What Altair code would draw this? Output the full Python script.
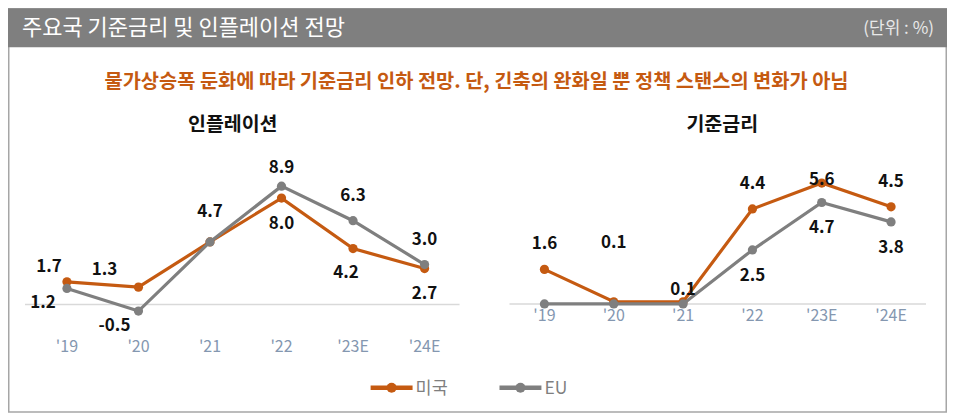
import altair as alt
import pandas as pd

# ---------------- data ----------------
years = ["'19", "'20", "'21", "'22", "'23E", "'24E"]
series = ["미국", "EU"]
colors = ["#C55A11", "#7F7F7F"]

infl_us = [1.7, 1.3, 4.7, 8.0, 4.2, 2.7]
infl_eu = [1.2, -0.5, 4.7, 8.9, 6.3, 3.0]
rate_us = [1.6, 0.1, 0.1, 4.4, 5.6, 4.5]
rate_eu = [0.0, 0.0, 0.0, 2.5, 4.7, 3.8]

# label placement categories (mapped to offsets in the style section)
infl_us_place = ["upper_left", "upper_left_far", "above_far", "below", "below_left", "below"]
infl_eu_place = ["lower_left", "lower_left", "none", "above_near", "above", "above"]
rate_us_place = ["above", "high", "close", "above", "on", "above"]
rate_eu_place = ["none", "none", "none", "below", "below", "below"]

title_text = "주요국 기준금리 및 인플레이션 전망"
unit_text = "(단위 : %)"
subtitle_text = "물가상승폭 둔화에 따라 기준금리 인하 전망. 단, 긴축의 완화일 뿐 정책 스탠스의 변화가 아님"
panel_titles = ["인플레이션", "기준금리"]

# ---------------- style ----------------
KR = "Noto Sans CJK KR"
PLACE = {
    "above": (0, -25),
    "above_near": (0, -18),
    "above_far": (0, -30),
    "below": (0, 26),
    "below_left": (-7, 24),
    "upper_left": (-18, -15),
    "upper_left_far": (-34, -17),
    "lower_left": (-24, 15),
    "high": (0, -59),
    "close": (0, -12),
    "on": (0, -3),
}

color_enc = alt.Color("series:N", scale=alt.Scale(domain=series, range=colors), legend=None)


def make_df(us, eu, us_p, eu_p):
    rows = []
    for s, vals, pl in ((series[0], us, us_p), (series[1], eu, eu_p)):
        for yr, v, p in zip(years, vals, pl):
            rows.append({"year": yr, "series": s, "value": v, "place": p,
                         "label": f"{v:.1f}"})
    return pd.DataFrame(rows)


def panel(df, xrange, ydomain, yrange, zx1, zx2, label_y):
    x = alt.X("year:N", sort=years,
              scale=alt.Scale(type="point", domain=years, range=xrange, padding=0),
              axis=None)
    y = alt.Y("value:Q", scale=alt.Scale(domain=ydomain, range=yrange, nice=False, zero=False),
              axis=None)
    layers = []
    zero = alt.Chart(pd.DataFrame({"value": [0]})).mark_rule(
        color="#d9d9d9", strokeWidth=1.5).encode(
        x=alt.value(zx1), x2=alt.value(zx2), y=y)
    layers.append(zero)
    xl = alt.Chart(pd.DataFrame({"year": years})).mark_text(
        font=KR, fontSize=16, color="#8497B0", baseline="middle").encode(
        x=x, y=alt.value(label_y), text="year:N")
    layers.append(xl)
    base = alt.Chart(df)
    for s in series:
        sub = base.transform_filter(alt.datum.series == s)
        layers.append(sub.mark_line(strokeWidth=3.2).encode(x=x, y=y, color=color_enc))
        layers.append(sub.mark_point(filled=True, size=85, opacity=1).encode(x=x, y=y, color=color_enc))
    for p in sorted(set(df["place"])):
        if p == "none":
            continue
        dx, dy = PLACE[p]
        layers.append(
            base.transform_filter(alt.datum.place == p).mark_text(
                font=KR, fontSize=17, fontWeight="bold", color="#111111",
                baseline="middle", dx=dx, dy=dy).encode(
                x=x, y=y, text="label:N"))
    return alt.layer(*layers)


infl_df = make_df(infl_us, infl_eu, infl_us_place, infl_eu_place)
rate_df = make_df(rate_us, rate_eu, rate_us_place, rate_eu_place)

p1 = panel(infl_df, [59, 417], [0, 10], [296.5, 163.5], 17, 452, 339)
p2 = panel(rate_df, [537, 884], [0, 5], [296, 188], 502, 919, 308)

dummy = pd.DataFrame({"d": [0]})
frame = alt.Chart(dummy).mark_rect(fill="white", stroke="#a6a6a6", strokeWidth=1.5).encode(
    x=alt.value(0.75), x2=alt.value(939.25), y=alt.value(0.75), y2=alt.value(404.25))
header = alt.Chart(dummy).mark_rect(color="#7f7f7f").encode(
    x=alt.value(0), x2=alt.value(940), y=alt.value(0), y2=alt.value(39))
title = alt.Chart(dummy).mark_text(
    font=KR, fontSize=22, color="white", align="left", baseline="middle").encode(
    x=alt.value(14), y=alt.value(20), text=alt.value(title_text))
unit = alt.Chart(dummy).mark_text(
    font=KR, fontSize=17, color="#e8e8e8", align="right", baseline="middle").encode(
    x=alt.value(927), y=alt.value(21), text=alt.value(unit_text))
subtitle = alt.Chart(dummy).mark_text(
    font=KR, fontSize=19.8, fontWeight="bold", color="#C55A11", align="center", baseline="middle").encode(
    x=alt.value(469), y=alt.value(74), text=alt.value(subtitle_text))
pt1 = alt.Chart(dummy).mark_text(
    font=KR, fontSize=19.5, fontWeight="bold", color="#111111", align="center", baseline="middle").encode(
    x=alt.value(225), y=alt.value(117), text=alt.value(panel_titles[0]))
pt2 = alt.Chart(dummy).mark_text(
    font=KR, fontSize=19.5, fontWeight="bold", color="#111111", align="center", baseline="middle").encode(
    x=alt.value(715), y=alt.value(117), text=alt.value(panel_titles[1]))

# legend
leg_df = pd.DataFrame({"series": series})
leg_x = alt.X("series:N", sort=series,
              scale=alt.Scale(type="point", domain=series, range=[384, 513], padding=0), axis=None)
leg_base = alt.Chart(leg_df)
leg_rule = leg_base.mark_rule(strokeWidth=4.5, xOffset=-21, x2Offset=21).encode(
    x=leg_x, x2=alt.X2("series:N"), y=alt.value(380), color=color_enc)
leg_pt = leg_base.mark_point(filled=True, size=100, opacity=1).encode(
    x=leg_x, y=alt.value(380), color=color_enc)
leg_txt = leg_base.mark_text(font=KR, fontSize=17.5, color="#7f7f7f", align="left",
                             baseline="middle", dx=24).encode(
    x=leg_x, y=alt.value(381), text="series:N")
legend = alt.layer(leg_rule, leg_pt, leg_txt)

chart = alt.layer(frame, header, title, unit, subtitle, pt1, pt2, p1, p2, legend).resolve_scale(
    x="independent", y="independent").properties(
    width=940, height=405, padding=0,
    autosize=alt.AutoSizeParams(type="none")).configure_view(stroke=None)

chart.save("out.html", embed_options={"renderer": "svg", "actions": False})
